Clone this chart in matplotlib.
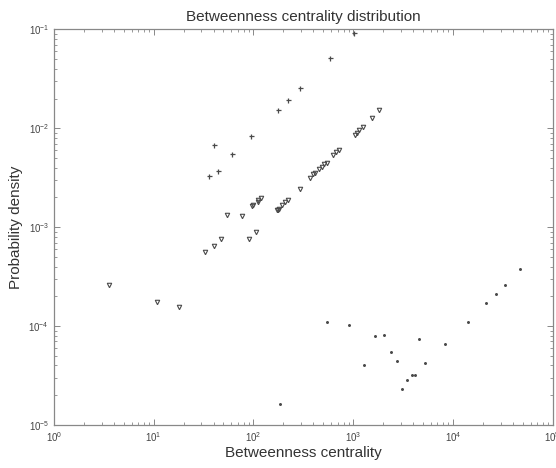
import numpy as np
import matplotlib
matplotlib.use("Agg")
import matplotlib.pyplot as plt
from matplotlib.ticker import LogLocator, LogFormatterMathtext, NullFormatter

plt.rcParams['font.family'] = ['Liberation Sans', 'DejaVu Sans']
plt.rcParams['mathtext.fontset'] = 'custom'
plt.rcParams['mathtext.rm'] = 'Liberation Sans'

# open triangles
tri_x = [3.58, 10.8, 18.0, 32.6, 39.8, 47.1, 54.1, 76.5, 90.5, 106, 97, 111, 177,
         98, 112, 120, 173, 181, 194, 208, 223, 294, 366, 398, 417, 450, 482,
         512, 541, 629, 680, 718, 1040, 1080, 1150, 1260, 1550, 1820]
tri_y = [2.61e-4, 1.75e-4, 1.57e-4, 5.58e-4, 6.52e-4, 7.67e-4, 1.33e-3, 1.31e-3,
         7.57e-4, 8.9e-4, 1.65e-3, 1.82e-3, 1.5e-3,
         1.66e-3, 1.88e-3, 1.96e-3, 1.5e-3, 1.54e-3, 1.66e-3, 1.78e-3, 1.88e-3,
         2.45e-3, 3.15e-3, 3.44e-3, 3.57e-3, 3.89e-3, 4.1e-3,
         4.34e-3, 4.5e-3, 5.37e-3, 5.76e-3, 6.0e-3, 8.57e-3, 8.9e-3, 9.6e-3,
         1.04e-2, 1.28e-2, 1.52e-2]

# plus markers
plus_x = [36.0, 40.4, 44.4, 61.1, 94.9, 176, 220, 294, 592, 1020]
plus_y = [3.32e-3, 6.79e-3, 3.74e-3, 5.55e-3, 8.37e-3, 1.55e-2, 1.92e-2,
          2.56e-2, 5.19e-2, 9.16e-2]

# small dots
dot_x = [184, 548, 912, 1288, 1663, 2028, 2384, 2735, 3120, 3470, 3865, 4210,
         4580, 5310, 8280, 14200, 21500, 26800, 33000, 47400]
dot_y = [1.64e-5, 1.09e-4, 1.03e-4, 4.03e-5, 7.96e-5, 8.09e-5, 5.52e-5, 4.45e-5,
         2.33e-5, 2.88e-5, 3.2e-5, 3.2e-5, 7.43e-5, 4.22e-5, 6.56e-5, 1.11e-4,
         1.72e-4, 2.1e-4, 2.63e-4, 3.76e-4]

fig = plt.figure(figsize=(5.56, 4.68), dpi=100)
ax = fig.add_axes([0.097, 0.092, 0.897, 0.845])

mc = '#4a4a4a'
ax.plot(tri_x, tri_y, 'v', ms=3.2, mfc='none', mec=mc, mew=0.8)
ax.plot(plus_x, plus_y, '+', ms=3.6, color=mc, mew=0.9)
ax.plot(dot_x, dot_y, '.', ms=2.3, color=mc)

ax.set_xscale('log')
ax.set_yscale('log')
ax.set_xlim(1, 1e5)
ax.set_ylim(1e-5, 1e-1)

for a in (ax.xaxis, ax.yaxis):
    a.set_major_locator(LogLocator(base=10, numticks=10))
    a.set_minor_locator(LogLocator(base=10, subs=np.arange(2, 10), numticks=10))
    a.set_major_formatter(LogFormatterMathtext())
    a.set_minor_formatter(NullFormatter())

ax.tick_params(which='both', direction='in', top=True, right=True,
               color='#888888', labelcolor='#444444', labelsize=7)
ax.tick_params(which='major', length=4, width=0.7)
ax.tick_params(which='minor', length=2, width=0.6)
for s in ax.spines.values():
    s.set_color('#888888')
    s.set_linewidth(0.9)

ax.set_title('Betweenness centrality distribution', fontsize=11, color='#333333', pad=6)
ax.set_xlabel('Betweenness centrality', fontsize=11, color='#333333', labelpad=2)
ax.set_ylabel('Probability density', fontsize=11, color='#333333', labelpad=4)

fig.savefig('out.png', dpi=100)
